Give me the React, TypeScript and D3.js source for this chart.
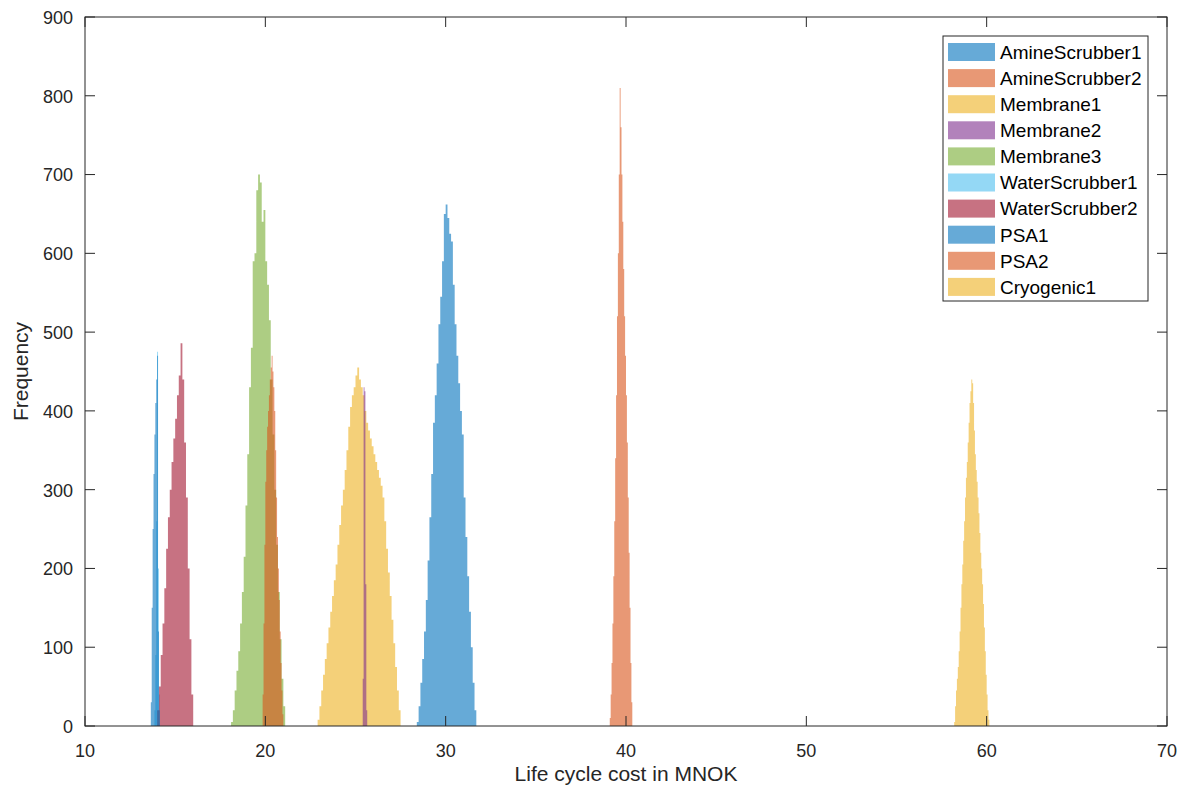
import React from "react";
import * as d3 from "d3";

// ---------- data ----------
const seriesNames = [
  "AmineScrubber1",
  "AmineScrubber2",
  "Membrane1",
  "Membrane2",
  "Membrane3",
  "WaterScrubber1",
  "WaterScrubber2",
  "PSA1",
  "PSA2",
  "Cryogenic1",
];
const seriesColors = [
  "#0072BD",
  "#D95319",
  "#EDB120",
  "#7E2F8E",
  "#77AC30",
  "#4DBEEE",
  "#A2142F",
  "#0072BD",
  "#D95319",
  "#EDB120",
];
// left edge of first bin, and bin width, for each series
const binStarts = [28.4, 39.1, 22.9, 25.4, 18.1, 13.85, 14.0, 13.65, 19.85, 58.2];
const binWidths = [0.1, 0.05, 0.1, 0.05, 0.1, 0.05, 0.1, 0.05, 0.05, 0.05];

const amineScrubber1Counts = [
  5, 25, 55, 85, 120, 160, 210, 265, 320, 385, 420, 460, 510, 545, 590, 650, 662,
  645, 625, 615, 560, 510, 470, 435, 400, 370, 290, 240, 190, 145, 100, 55, 20,
];
const amineScrubber2Counts = [
  10, 40, 80, 130, 190, 260, 340, 420, 520, 600, 700, 810, 760, 700, 640, 580, 520,
  470, 420, 360, 290, 220, 150, 80, 30,
];
const membrane1Counts = [
  8, 25, 45, 65, 85, 105, 125, 145, 165, 185, 205, 230, 255, 280, 300, 325, 350,
  380, 405, 420, 430, 445, 455, 440, 430, 420, 400, 385, 375, 365, 355, 345, 335,
  325, 315, 305, 290, 260, 225, 195, 165, 135, 105, 75, 45, 20,
];
const membrane2Counts = [60, 430, 425, 180, 20];
const membrane3Counts = [
  5, 20, 45, 70, 95, 130, 170, 215, 280, 345, 430, 480, 590, 600, 680, 700, 690,
  640, 655, 590, 560, 515, 440, 370, 300, 230, 170, 110, 60, 25,
];
const waterScrubber1Counts = [20, 90, 260, 475, 200, 40];
const waterScrubber2Counts = [
  20, 50, 90, 130, 175, 225, 265, 300, 335, 365, 390, 420, 445, 486, 440, 360, 290,
  200, 110, 40,
];
const psa1Counts = [30, 150, 250, 320, 370, 410, 440, 470, 120, 20];
const psa2Counts = [
  40, 130, 230, 310, 350, 380, 400, 420, 440, 455, 470, 450, 430, 400, 350, 290, 240,
  200, 160, 120, 80, 45, 15,
];
const cryogenic1Counts = [
  5, 25, 45, 60, 75, 95, 120, 150, 180, 205, 235, 260, 290, 315, 335, 360, 385, 410,
  425, 440, 435, 410, 375, 345, 325, 310, 290, 270, 245, 220, 200, 180, 155, 125, 95,
  65, 40, 20, 8,
];
const seriesCounts = [
  amineScrubber1Counts,
  amineScrubber2Counts,
  membrane1Counts,
  membrane2Counts,
  membrane3Counts,
  waterScrubber1Counts,
  waterScrubber2Counts,
  psa1Counts,
  psa2Counts,
  cryogenic1Counts,
];

const xTicks = [10, 20, 30, 40, 50, 60, 70];
const yTicks = [0, 100, 200, 300, 400, 500, 600, 700, 800, 900];
const xLabel = "Life cycle cost in MNOK";
const yLabel = "Frequency";

// ---------- layout ----------
const W = 1186;
const H = 796;
const M = { left: 85, right: 1167, top: 17, bottom: 726 };
const AXIS = "#262626";
const FONT = "'Liberation Sans', Arial, Helvetica, sans-serif";
const TICK_LEN = 10;

export default function App() {
  const x = d3.scaleLinear().domain([10, 70]).range([M.left, M.right]);
  const y = d3.scaleLinear().domain([0, 900]).range([M.bottom, M.top]);

  const area = d3
    .area<[number, number]>()
    .x((d) => x(d[0]))
    .y0(y(0))
    .y1((d) => y(d[1]))
    .curve(d3.curveStepAfter);

  const paths = seriesCounts.map((counts, si) => {
    const start = binStarts[si];
    const w = binWidths[si];
    const pts: [number, number][] = counts.map((c, i) => [start + i * w, c]);
    pts.push([start + counts.length * w, 0]);
    return area(pts) || "";
  });

  const legX = 943;
  const legY = 36;
  const legW = 205;
  const legH = 265;
  const rowH = 26.1;

  return (
    <svg
      width={W}
      height={H}
      style={{ position: "absolute", left: 0, top: 0, background: "#fff" }}
      fontFamily={FONT}
    >
      <rect x={0} y={0} width={W} height={H} fill="#fff" />
      <rect
        x={M.left}
        y={M.top}
        width={M.right - M.left}
        height={M.bottom - M.top}
        fill="#fff"
      />
      {paths.map((p, i) => (
        <path key={seriesNames[i]} d={p} fill={seriesColors[i]} fillOpacity={0.6} stroke="none" />
      ))}

      {/* box */}
      <rect
        x={M.left}
        y={M.top}
        width={M.right - M.left}
        height={M.bottom - M.top}
        fill="none"
        stroke={AXIS}
        strokeWidth={1}
      />
      {/* x ticks */}
      {xTicks.map((t) => (
        <g key={"xt" + t}>
          <line x1={x(t)} x2={x(t)} y1={M.bottom} y2={M.bottom - TICK_LEN} stroke={AXIS} />
          <line x1={x(t)} x2={x(t)} y1={M.top} y2={M.top + TICK_LEN} stroke={AXIS} />
          <text x={x(t)} y={757} textAnchor="middle" fontSize={18} fill={AXIS}>
            {t}
          </text>
        </g>
      ))}
      {/* y ticks */}
      {yTicks.map((t) => (
        <g key={"yt" + t}>
          <line x1={M.left} x2={M.left + TICK_LEN} y1={y(t)} y2={y(t)} stroke={AXIS} />
          <line x1={M.right} x2={M.right - TICK_LEN} y1={y(t)} y2={y(t)} stroke={AXIS} />
          <text x={73} y={y(t)} dy="0.38em" textAnchor="end" fontSize={18} fill={AXIS}>
            {t}
          </text>
        </g>
      ))}
      <text
        x={(M.left + M.right) / 2}
        y={781}
        textAnchor="middle"
        fontSize={21}
        fill={AXIS}
      >
        {xLabel}
      </text>
      <text
        transform={`translate(28, ${(M.top + M.bottom) / 2}) rotate(-90)`}
        textAnchor="middle"
        fontSize={21}
        fill={AXIS}
      >
        {yLabel}
      </text>

      {/* legend */}
      <rect x={legX} y={legY} width={legW} height={legH} fill="#fff" stroke={AXIS} strokeWidth={1} />
      {seriesNames.map((n, i) => {
        const cy = legY + 16 + i * rowH;
        return (
          <g key={"lg" + n}>
            <rect x={948} y={cy - 9} width={47} height={18} fill={seriesColors[i]} fillOpacity={0.6} />
            <text x={1000} y={cy} dy="0.36em" fontSize={19} fill="#000">
              {n}
            </text>
          </g>
        );
      })}
    </svg>
  );
}
